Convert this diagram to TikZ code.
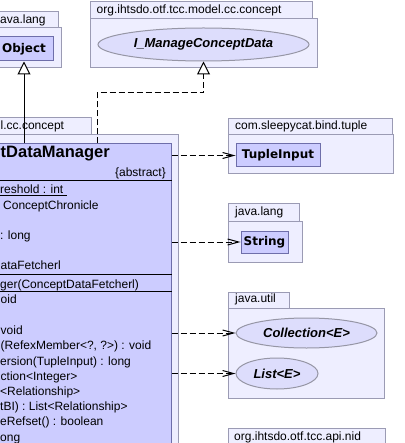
\documentclass[tikz,border=0pt]{standalone}
\usepackage{fontspec}
\setmainfont{Liberation Sans}
\newfontfamily\djv{DejaVu Sans}
\usetikzlibrary{arrows.meta,shapes.geometric}
\definecolor{pkgfill}{RGB}{238,238,255}
\definecolor{pkgline}{RGB}{155,155,180}
\definecolor{clsfill}{RGB}{204,204,255}
\definecolor{clsline}{RGB}{110,110,170}
\definecolor{ifill}{RGB}{221,221,252}
\definecolor{iline}{RGB}{150,150,165}
\tikzset{
  pkg/.style={draw=pkgline, fill=pkgfill, line width=1pt},
  pkglabel/.style={anchor=mid west, inner sep=0pt, font=\fontsize{12}{14}\selectfont},
  cls/.style={draw=clsline, fill=clsfill, line width=1pt, inner sep=0pt, font=\djv\bfseries\fontsize{12}{14}\selectfont},
  mainbox/.style={draw=clsline, fill=clsfill, line width=1pt, inner sep=0pt},
  iface/.style={ellipse, draw=iline, fill=ifill, line width=1pt, inner sep=0pt, font=\bfseries\itshape\fontsize{13}{15}\selectfont},
  member/.style={anchor=mid west, inner sep=0pt, font=\fontsize{12}{14}\selectfont},
  sepline/.style={line width=1pt, black},
  dep/.style={line width=1pt, dash pattern=on 6pt off 3pt, -{Straight Barb[length=11pt,width=6pt]}},
  gen/.style={line width=1pt, -{Triangle[open, length=13pt, width=13pt, fill=white]}},
  real/.style={gen, dash pattern=on 6pt off 3pt},
}
\begin{document}
\begin{tikzpicture}[x=1pt, y=-1pt]
\useasboundingbox (0,0) rectangle (404,443);
\clip (0,0) rectangle (404,443);
\fill[white] (0,0) rectangle (404,443);
% packages
\draw[pkg] (-20,12) rectangle (58,28);
\draw[pkg] (-20,28) rectangle (61,68);
\node[pkglabel] (p1l) at (0,20.5) {ava.lang};
\draw[pkg] (90,2) rectangle (312,19);
\draw[pkg] (90,19) rectangle (317,68);
\node[pkglabel] (p2l) at (96.5,11) {org.ihtsdo.otf.tcc.model.cc.concept};
\draw[pkg] (-120,118) rectangle (91.5,135);
\draw[pkg] (-120,135) rectangle (178,480);
\node[pkglabel] (p3l) at (0.5,127) {l.cc.concept};
\draw[pkg] (228,119) rectangle (392,135);
\draw[pkg] (228,135) rectangle (393,174);
\node[pkglabel] (p4l) at (235,127) {com.sleepycat.bind.tuple};
\draw[pkg] (228,204) rectangle (299,221);
\draw[pkg] (228,221) rectangle (302,262);
\node[pkglabel] (p5l) at (235,212.5) {java.lang};
\draw[pkg] (228,292) rectangle (289,308);
\draw[pkg] (228,308) rectangle (384,398);
\node[pkglabel] (p6l) at (235,300) {java.util};
\draw[pkg] (228,428) rectangle (385,446);
\draw[pkg] (228,446) rectangle (400,500);
\node[pkglabel] (p7l) at (234,437.5) {org.ihtsdo.otf.tcc.api.nid};
% classes
\node[cls, minimum width=58pt, minimum height=24pt] (obj) at (24,49) {Object};
\node[cls, minimum width=84pt, minimum height=23pt] (tuple) at (278,155.5) {TupleInput};
\node[cls, minimum width=47pt, minimum height=22pt] (string) at (264.5,242) {String};
\node[iface, minimum width=211pt, minimum height=33pt] (imcd) at (203.5,44.5) {I\_ManageConceptData};
\node[iface, minimum width=141pt, minimum height=30pt] (coll) at (306.5,333) {Collection<E>};
\node[iface, minimum width=82pt, minimum height=31pt] (list) at (277,373.5) {List<E>};
% main class
\node[mainbox, minimum width=271pt, minimum height=326pt] (main) at (35.5,307) {};
\draw[sepline] (main.west |- 0,181) -- (main.east |- 0,181);
\draw[sepline] (main.west |- 0,274) -- (main.east |- 0,274);
\draw[sepline] (main.west |- 0,291) -- (main.east |- 0,291);
\node[anchor=east, inner sep=0pt, font=\bfseries\fontsize{16.5}{18}\selectfont] (title) at (110,154) {tDataManager};
\node[anchor=mid east, inner sep=0pt, font=\fontsize{12}{14}\selectfont] (abs) at (166,173.5) {\{abstract\}};
\node[member] (m1) at (0,191) {\underline{reshold : int\ }};
\node[member] (m2) at (3,207) {ConceptChronicle};
\node[member] (m3) at (0,237) {: long};
\node[member] (m4) at (0.5,267) {ataFetcherl};
\node[member] (m5) at (0,286) {ger(ConceptDataFetcherl)};
\node[member] (m6) at (0.5,301) {oid};
\node[member] (m7) at (0.5,332) {void};
\node[member] (m8) at (0.5,347) {(RefexMember<?, ?>) : void};
\node[member] (m9) at (0,363) {ersion(TupleInput) : long};
\node[member] (m10) at (0.5,378) {ction<Integer>};
\node[member] (m11) at (0,393) {<Relationship>};
\node[member] (m12) at (0,408) {tBI) : List<Relationship>};
\node[member] (m13) at (0,423) {eRefset() : boolean};
\node[member] (m14) at (0,439) {ong};
% connectors
\draw[gen] (obj.south |- main.north) -- (obj.south);
\coordinate (rj) at (97,93);
\draw[real] (rj |- main.north) -- (rj) -| (imcd.south);
\draw[dep] (main.east |- tuple.west) -- (tuple.west);
\draw[dep] (main.east |- string.west) -- (string.west);
\draw[dep] (main.east |- coll.west) -- (coll.west);
\draw[dep] (main.east |- list.west) -- (list.west);
\end{tikzpicture}
\end{document}
